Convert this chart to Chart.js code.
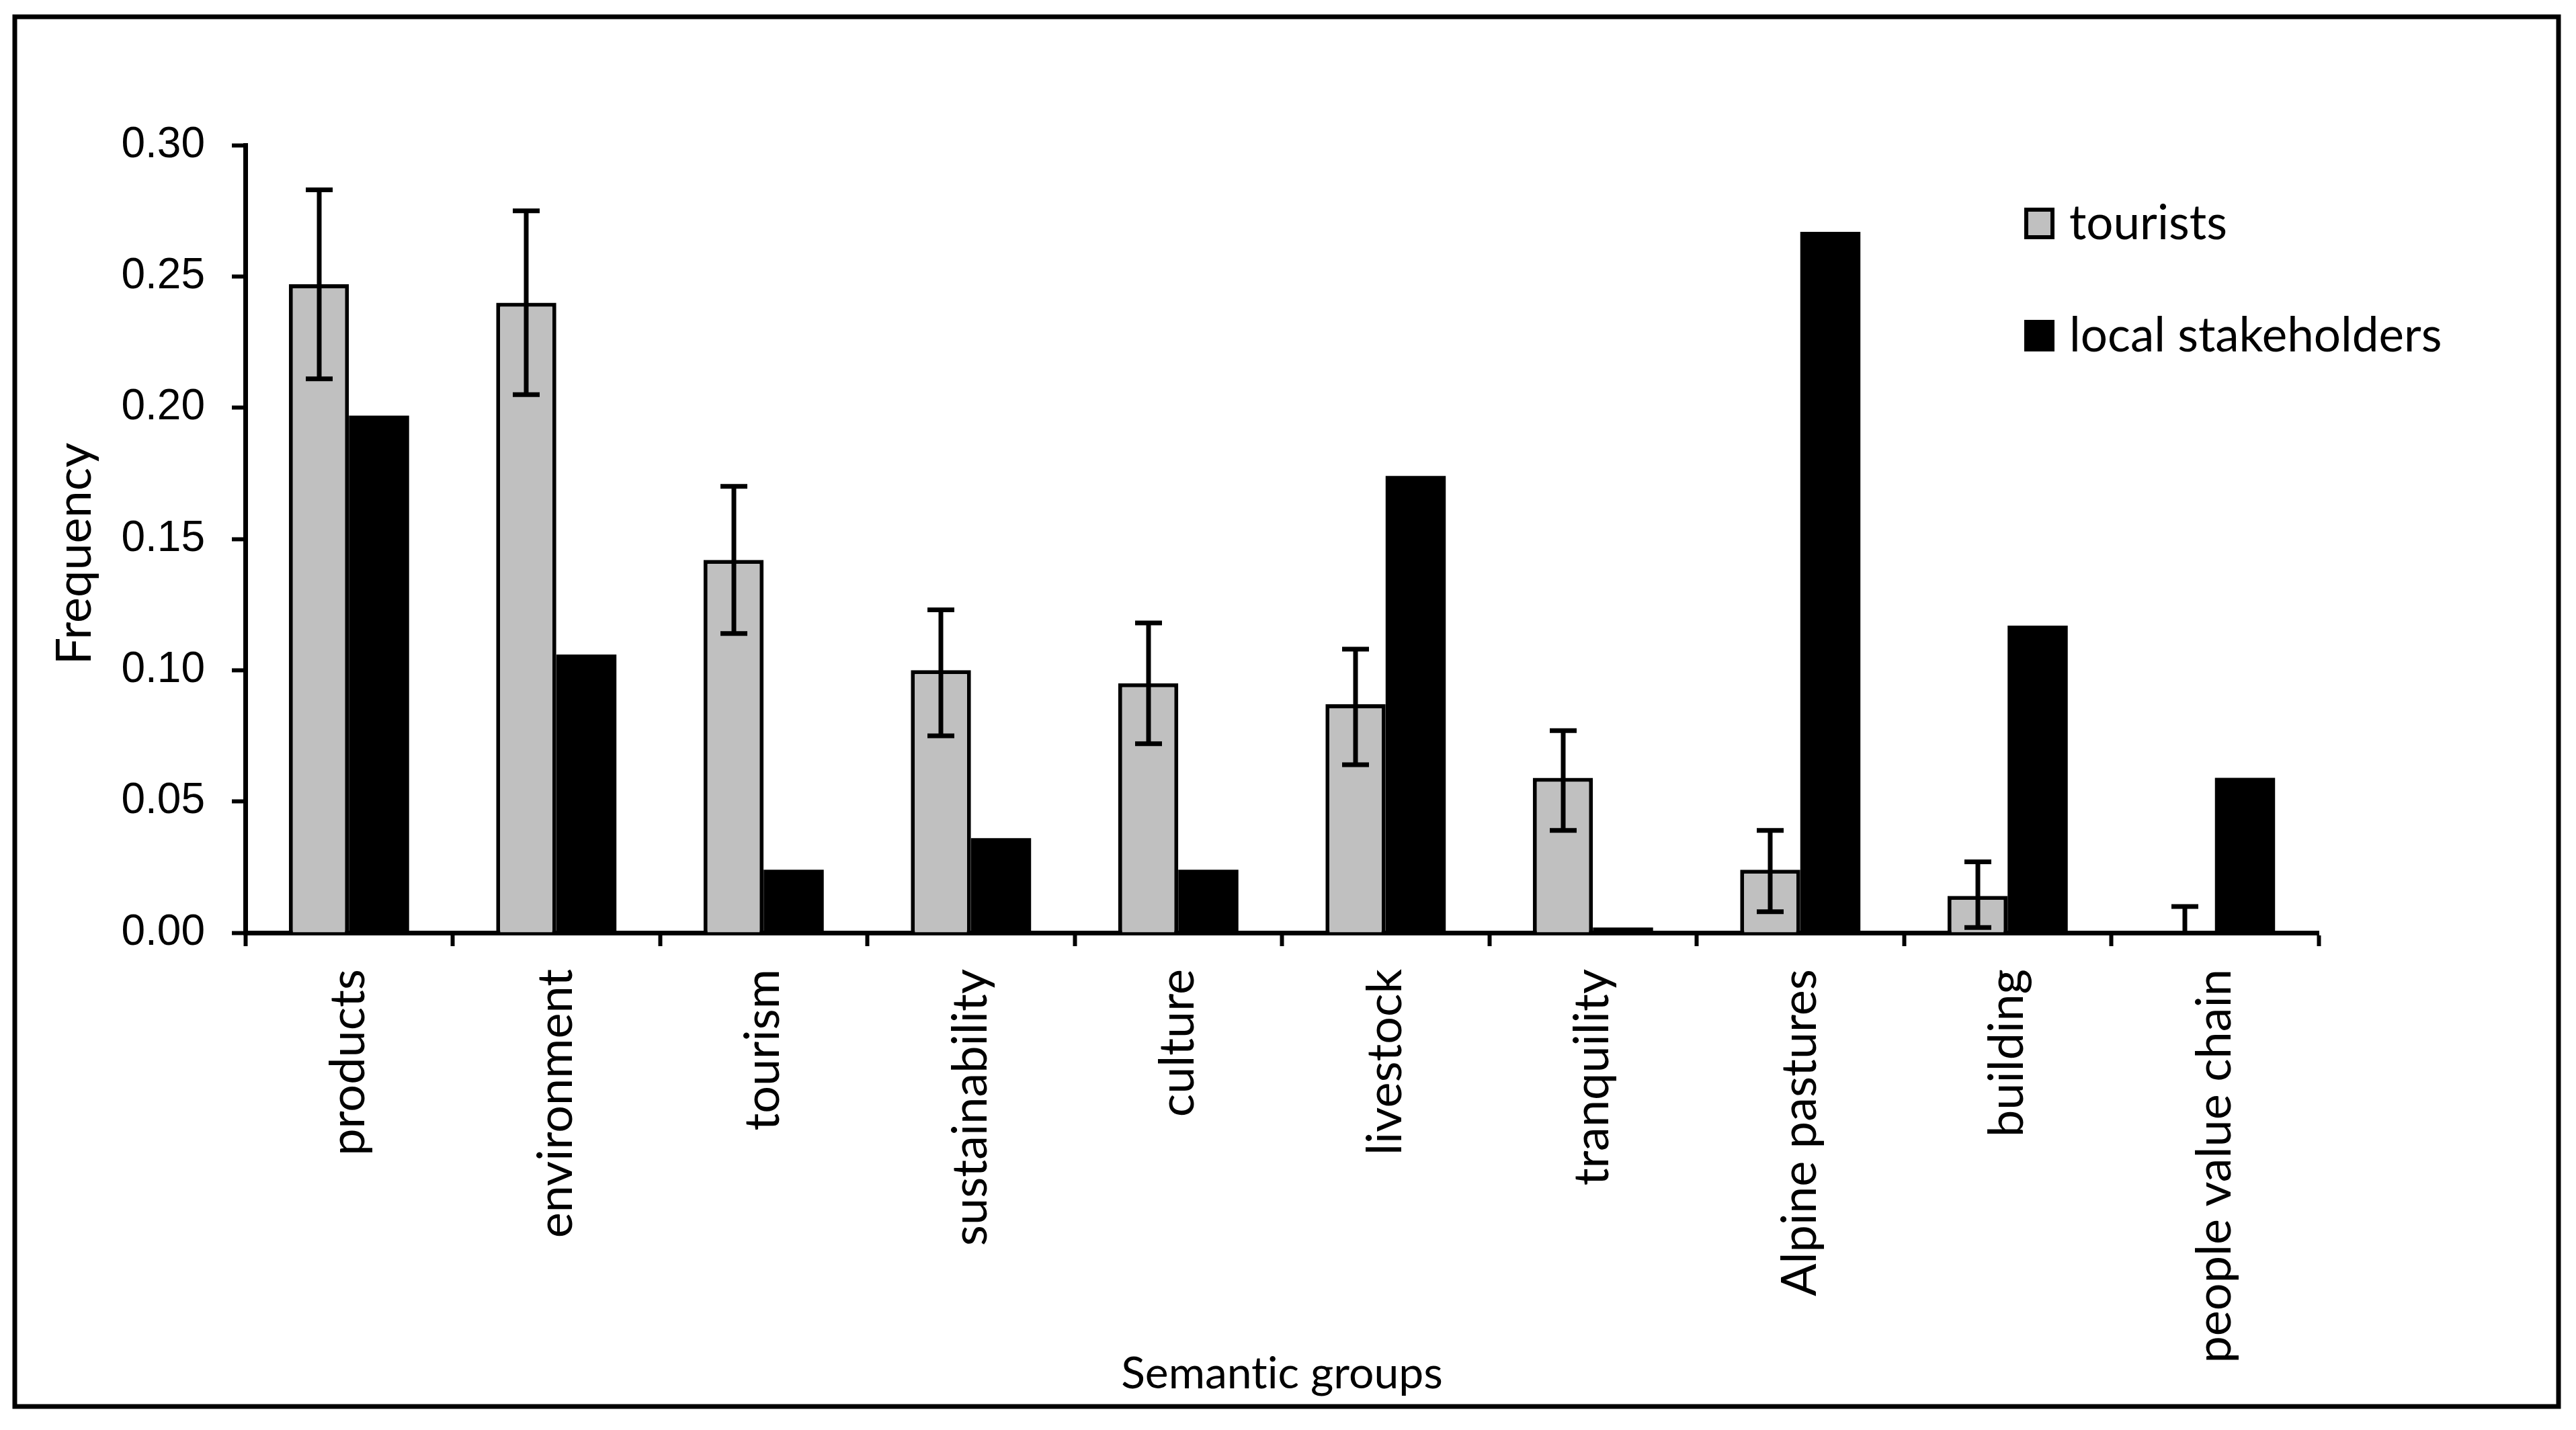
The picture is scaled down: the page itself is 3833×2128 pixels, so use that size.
<!DOCTYPE html>
<html><head><meta charset="utf-8">
<script src="https://cdn.jsdelivr.net/npm/chart.js@4.4.0/dist/chart.umd.min.js"></script>
<style>html,body{margin:0;padding:0;background:#fff;overflow:hidden;} canvas{display:block;}</style>
</head><body>
<canvas id="c" width="3833" height="2128" style="width:3833px;height:2128px"></canvas>
<script>
const categories = ['products','environment','tourism','sustainability','culture','livestock','tranquility','Alpine pastures','building','people value chain'];
const tourists = [0.247,0.240,0.142,0.100,0.095,0.087,0.059,0.024,0.014,0.000];
const localStakeholders = [0.197,0.106,0.024,0.036,0.024,0.174,0.002,0.267,0.117,0.059];
const touristsErrHigh = [0.283,0.275,0.170,0.123,0.118,0.108,0.077,0.039,0.027,0.010];
const touristsErrLow = [0.211,0.205,0.114,0.075,0.072,0.064,0.039,0.008,0.002,-0.010];
const yTicks = [0.00,0.05,0.10,0.15,0.20,0.25,0.30];
const seriesNames = ['tourists','local stakeholders'];
const yTitle = 'Frequency';
const xTitle = 'Semantic groups';

const W = 3833, H = 2128;
const AREA = {left:365, right:3450, top:216, bottom:1388};

const bgPlugin = {
  id:'bg',
  beforeDraw(chart){
    const c = chart.ctx;
    try { c.textRendering = 'optimizeSpeed'; } catch(e) {}
    c.save(); c.fillStyle='#fff'; c.fillRect(0,0,chart.width,chart.height); c.restore();
  },
  afterDraw(chart){
    const c = chart.ctx; c.save();
    c.strokeStyle='#000'; c.lineWidth=7;
    c.strokeRect(22,25,3807-22,2093-25);
    // y axis title
    c.font = '72px Lato'; c.fillStyle='#000'; c.textAlign='center'; c.textBaseline='middle';
    c.translate(112, 824); c.rotate(-Math.PI/2);
    c.fillText(yTitle, 0, 0);
    c.restore();
  }
};

const errorBars = {
  id:'errorBars',
  afterDatasetsDraw(chart){
    const meta = chart.getDatasetMeta(0);
    const ys = chart.scales.y;
    const c = chart.ctx, a = chart.chartArea;
    c.save();
    c.beginPath(); c.rect(a.left, a.top-30, a.right-a.left, a.bottom-a.top+30); c.clip();
    c.strokeStyle='#000'; c.lineWidth=7; c.lineCap='butt';
    meta.data.forEach((bar,i)=>{
      const x = Math.round(bar.x);
      const yh = ys.getPixelForValue(touristsErrHigh[i]);
      const yl = ys.getPixelForValue(touristsErrLow[i]);
      c.beginPath();
      c.moveTo(x,yh); c.lineTo(x,yl);
      c.moveTo(x-20,yh); c.lineTo(x+20,yh);
      c.moveTo(x-20,yl); c.lineTo(x+20,yl);
      c.stroke();
    });
    c.restore();
  }
};

const legendPlugin = {
  id:'customLegend',
  afterDraw(chart){
    const c = chart.ctx;
    const boxX=3012, boxW=45, boxH=47, textX=3079, baselines=[356,523];
    c.save();
    c.font = '71px Lato'; c.textBaseline='alphabetic'; c.textAlign='left';
    chart.data.datasets.forEach((ds,i)=>{
      const yb = baselines[i];
      c.fillStyle = ds.backgroundColor;
      c.fillRect(boxX, yb-boxH, boxW, boxH);
      if (ds.borderWidth) { c.lineWidth=6; c.strokeStyle='#000'; c.strokeRect(boxX+3, yb-boxH+3, boxW-6, boxH-6); }
      c.fillStyle='#000'; c.fillText(ds.label, textX, yb);
    });
    c.restore();
  }
};

Chart.defaults.color = '#000';

function build(){
  new Chart(document.getElementById('c'), {
    type:'bar',
    data:{
      labels: categories,
      datasets:[
        {label:seriesNames[0], data:tourists, backgroundColor:'#C0C0C0', borderColor:'#000', borderWidth:6,
         barPercentage:1.0, categoryPercentage:0.58},
        {label:seriesNames[1], data:localStakeholders, backgroundColor:'#000', borderWidth:0,
         barPercentage:1.0, categoryPercentage:0.58}
      ]
    },
    options:{
      responsive:false, animation:false, devicePixelRatio:1,
      layout:{padding:{left:0, top:AREA.top, right:W-AREA.right, bottom:0}},
      plugins:{legend:{display:false}, tooltip:{enabled:false}},
      scales:{
        x:{
          grid:{display:true, drawOnChartArea:false, drawTicks:true, tickLength:20, tickWidth:6, tickColor:'#000', offset:true},
          border:{display:true, color:'#000', width:7},
          ticks:{autoSkip:false, maxRotation:90, minRotation:90, padding:34, font:{family:'Lato', size:72}, color:'#000'},
          title:{display:true, text:xTitle, font:{family:'Lato', size:66}, color:'#000', padding:{top:0,bottom:44}},
          afterFit(s){ s.height = H - AREA.bottom; }
        },
        y:{
          min:0, max:0.3,
          afterBuildTicks(s){ s.ticks = yTicks.map(v=>({value:v})); },
          grid:{display:true, drawOnChartArea:false, drawTicks:true, tickLength:20, tickWidth:6, tickColor:'#000'},
          border:{display:true, color:'#000', width:7},
          ticks:{padding:40, font:{family:'Liberation Sans', size:64}, color:'#000', callback:(v)=>Number(v).toFixed(2)},
          title:{display:false},
          afterFit(s){ s.width = AREA.left; }
        }
      }
    },
    plugins:[bgPlugin, errorBars, legendPlugin]
  });
}
Promise.all([document.fonts.load('70px Lato'), document.fonts.load('64px "Liberation Sans"')]).then(build, build);
</script>
</body></html>
